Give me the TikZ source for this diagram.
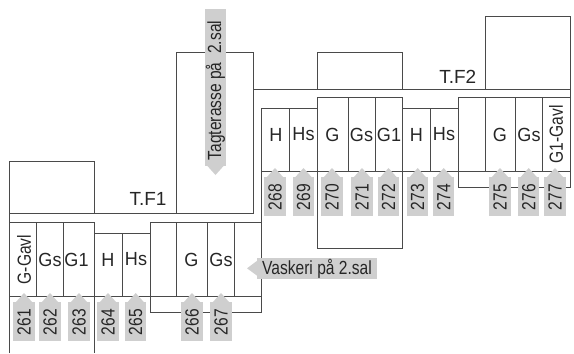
\documentclass[tikz,border=0pt]{standalone}
\usepackage{fontspec}
\setmainfont{Liberation Sans}
\newfontfamily\condfont[FakeStretch=0.82]{Liberation Sans}
\newfontfamily\roomfont[FakeStretch=0.95]{Liberation Sans}
\definecolor{lab}{HTML}{CFCFCF}
\definecolor{ln}{HTML}{4A4A4A}
\newcommand{\numlab}[3]{%
 \fill[lab] (#1-10.7,#2+9) rectangle (#1+10.7,#2+48);
 \fill[lab] (#1-8.5,#2+9.5) -- (#1,#2) -- (#1+8.5,#2+9.5) -- cycle;
 \node[numtxt] (n#3) at (#1,#2+29) {#3};}
\tikzset{x=1bp,y=-1bp,
 wall/.style={draw=ln,line width=0.9bp},
 numtxt/.style={rotate=90,font=\condfont\fontsize{19bp}{20bp}\selectfont,text=black!85,inner sep=0pt},
 room/.style={font=\roomfont\fontsize{19bp}{20bp}\selectfont,text=black!85,inner sep=0pt},
 title/.style={font=\fontsize{19bp}{20bp}\selectfont,text=black!85,inner sep=0pt},
 gavl/.style={rotate=90,font=\condfont\fontsize{19bp}{20bp}\selectfont,text=black!85,inner sep=0pt}}
\begin{document}
\begin{tikzpicture}
\useasboundingbox (0,0) rectangle (574,353);
% left building
\draw[wall] (9.5,353) -- (9.5,161.5) -- (94.5,161.5) -- (94.5,213);
\draw[wall] (9.5,213) -- (176.5,213) -- (176.5,52) -- (253,52) -- (253,213) -- (176.5,213);
\draw[wall] (9.5,222) -- (94.5,222) -- (94.5,233.5) -- (150,233.5) -- (150,312) -- (261.5,312) -- (261.5,108.5) -- (317,108.5);
\draw[wall] (150,233.5) -- (150,222) -- (261.5,222);
\draw[wall] (94.5,222) -- (94.5,353);
\draw[wall] (9.5,296) -- (261.5,296);
\foreach \x in {36.5,63.5,176.5,207.5,234.5} \draw[wall] (\x,222) -- (\x,296);
\draw[wall] (122.5,233.5) -- (122.5,296);
% right building
\draw[wall] (253,89.5) -- (570,89.5);
\draw[wall] (317,89.5) -- (317,52) -- (402.5,52) -- (402.5,89.5);
\draw[wall] (485,89.5) -- (485,16) -- (570,16) -- (570,187.5) -- (458,187.5) -- (458,97.5) -- (570,97.5);
\draw[wall] (317,248.5) -- (317,97.5) -- (402.5,97.5) -- (402.5,248.5) -- cycle;
\draw[wall] (402.5,108.5) -- (458,108.5);
\draw[wall] (261.5,171.5) -- (570,171.5);
\foreach \x in {289.5,430.5} \draw[wall] (\x,108.5) -- (\x,171.5);
\foreach \x in {348,375,485,515.5,542.5} \draw[wall] (\x,97.5) -- (\x,171.5);
% number labels
\numlab{24}{293}{261}\numlab{50}{293}{262}\numlab{79}{293}{263}\numlab{108}{293}{264}\numlab{135.7}{293}{265}\numlab{192}{293}{266}\numlab{221}{293}{267}
\numlab{275}{168}{268}\numlab{303.5}{168}{269}\numlab{332}{168}{270}\numlab{362}{168}{271}\numlab{388.5}{168}{272}\numlab{417.7}{168}{273}\numlab{443.7}{168}{274}\numlab{500}{168}{275}\numlab{528.7}{168}{276}\numlab{555}{168}{277}
% tagterrasse
\fill[lab] (205,9) rectangle (226,165.7);
\fill[lab] (207,165.5) -- (215.5,175) -- (224,165.5) -- cycle;
\node[gavl] (tag) at (215.5,90.5) {Tagterasse på\ \ 2.sal};
% vaskeri
\fill[lab] (257,258) rectangle (377,279);
\fill[lab] (257.5,260.5) -- (247,268.3) -- (257.5,276) -- cycle;
\node[gavl,rotate=-90] (vask) at (317,268.5) {Vaskeri på 2.sal};
% rooms
\node[room] (r1) at (76.5,259.5) {G1};
\node[room] (r2) at (50,259.5) {Gs};
\node[room] (r3) at (108,259.5) {H};
\node[room] (r4) at (136,259.5) {Hs};
\node[room] (r5) at (191.5,259.5) {G};
\node[room] (r6) at (221,259.5) {Gs};
\node[gavl] (r7) at (24,259.5) {G-Gavl};
\node[room] (r8) at (276,134.5) {H};
\node[room] (r9) at (303.5,134.5) {Hs};
\node[room] (r10) at (332.5,134.5) {G};
\node[room] (r11) at (361.5,134.5) {Gs};
\node[room] (r12) at (389,134.5) {G1};
\node[room] (r13) at (416.5,134.5) {H};
\node[room] (r14) at (444,134.5) {Hs};
\node[room] (r15) at (500,134.5) {G};
\node[room] (r16) at (529,134.5) {Gs};
\node[gavl] (r17) at (556,134.5) {G1-Gavl};
\node[title] (t1) at (148,199) {T.F1};
\node[title] (t2) at (457.8,77) {T.F2};
\end{tikzpicture}
\end{document}
